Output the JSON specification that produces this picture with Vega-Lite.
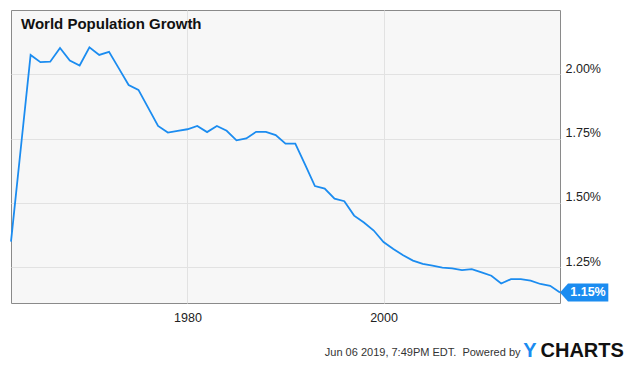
{
  "$schema": "https://vega.github.io/schema/vega-lite/v6.json",
  "width": 549,
  "height": 293,
  "autosize": {"type": "none"},
  "padding": {"left": 11, "top": 10, "right": 75, "bottom": 63},
  "background": "white",
  "config": {
    "font": "Liberation Sans",
    "view": {"fill": "#f7f7f7", "stroke": "#8a8a8a", "strokeWidth": 1}
  },
  "title": {
    "text": "World Population Growth",
    "anchor": "start",
    "frame": "group",
    "orient": "top",
    "offset": -22,
    "dx": 10,
    "fontSize": 15,
    "fontWeight": "bold",
    "color": "#111111"
  },
  "data": {
    "values": [
      {"year": 1962, "value": 1.349},
      {"year": 1963, "value": 1.712},
      {"year": 1964, "value": 2.075},
      {"year": 1965, "value": 2.047},
      {"year": 1966, "value": 2.049},
      {"year": 1967, "value": 2.102},
      {"year": 1968, "value": 2.053},
      {"year": 1969, "value": 2.034},
      {"year": 1970, "value": 2.105},
      {"year": 1971, "value": 2.075},
      {"year": 1972, "value": 2.087},
      {"year": 1973, "value": 2.023},
      {"year": 1974, "value": 1.958},
      {"year": 1975, "value": 1.939},
      {"year": 1976, "value": 1.869},
      {"year": 1977, "value": 1.799},
      {"year": 1978, "value": 1.773},
      {"year": 1979, "value": 1.780},
      {"year": 1980, "value": 1.786},
      {"year": 1981, "value": 1.799},
      {"year": 1982, "value": 1.775},
      {"year": 1983, "value": 1.799},
      {"year": 1984, "value": 1.780},
      {"year": 1985, "value": 1.743},
      {"year": 1986, "value": 1.750},
      {"year": 1987, "value": 1.776},
      {"year": 1988, "value": 1.776},
      {"year": 1989, "value": 1.763},
      {"year": 1990, "value": 1.730},
      {"year": 1991, "value": 1.730},
      {"year": 1992, "value": 1.648},
      {"year": 1993, "value": 1.565},
      {"year": 1994, "value": 1.555},
      {"year": 1995, "value": 1.516},
      {"year": 1996, "value": 1.506},
      {"year": 1997, "value": 1.450},
      {"year": 1998, "value": 1.423},
      {"year": 1999, "value": 1.392},
      {"year": 2000, "value": 1.347},
      {"year": 2001, "value": 1.320},
      {"year": 2002, "value": 1.296},
      {"year": 2003, "value": 1.275},
      {"year": 2004, "value": 1.262},
      {"year": 2005, "value": 1.255},
      {"year": 2006, "value": 1.248},
      {"year": 2007, "value": 1.245},
      {"year": 2008, "value": 1.238},
      {"year": 2009, "value": 1.242},
      {"year": 2010, "value": 1.229},
      {"year": 2011, "value": 1.216},
      {"year": 2012, "value": 1.186},
      {"year": 2013, "value": 1.203},
      {"year": 2014, "value": 1.203},
      {"year": 2015, "value": 1.197},
      {"year": 2016, "value": 1.184},
      {"year": 2017, "value": 1.177},
      {"year": 2018, "value": 1.151}
    ]
  },
  "encoding": {
    "x": {
      "field": "year",
      "type": "quantitative",
      "scale": {"domain": [1962, 2018], "nice": false, "zero": false},
      "axis": {
        "orient": "bottom",
        "values": [1980, 2000],
        "format": "d",
        "grid": true,
        "gridColor": "#e2e2e2",
        "ticks": false,
        "domain": false,
        "labelFontSize": 12.5,
        "labelColor": "#222222",
        "labelPadding": 8,
        "title": "Jun 06 2019, 7:49PM EDT.\u00a0 Powered by",
        "titleX": 509,
        "titleY": 52,
        "titleAlign": "right",
        "titleAnchor": null,
        "titleBaseline": "alphabetic",
        "titleFontSize": 11,
        "titleFontWeight": "normal",
        "titleColor": "#333333"
      }
    },
    "y": {
      "field": "value",
      "type": "quantitative",
      "scale": {"domain": [1.11, 2.25], "nice": false, "zero": false}
    }
  },
  "layer": [
    {
      "mark": {"type": "line", "color": "#1b8cf0", "strokeWidth": 1.8},
      "encoding": {
        "y": {
          "field": "value",
          "type": "quantitative",
          "axis": {
            "orient": "right",
            "values": [1.25, 1.5, 1.75, 2.0],
            "labelExpr": "format(datum.value, '.2f') + '%'",
            "grid": true,
            "gridColor": "#e2e2e2",
            "ticks": false,
            "domain": false,
            "labelFontSize": 12.5,
            "labelColor": "#222222",
            "labelPadding": 5,
            "labelBaseline": "alphabetic",
            "labelOffset": -2,
            "title": "CHARTS",
            "titleX": -20,
            "titleY": 346.5,
            "titleAngle": 0,
            "titleAlign": "left",
            "titleAnchor": null,
            "titleBaseline": "alphabetic",
            "titleFontSize": 20,
            "titleFontWeight": "bold",
            "titleColor": "#111111"
          }
        }
      }
    },
    {
      "transform": [{"filter": "datum.year == 2018"}],
      "mark": {
        "type": "point",
        "shape": "M0,0L1.6,-1.8L9.66,-1.8L9.66,1.8L1.6,1.8Z",
        "size": 100,
        "filled": true,
        "fill": "#1b8cf0",
        "stroke": null,
        "opacity": 1,
        "clip": false
      },
      "encoding": {
        "y": {
          "field": "value",
          "type": "quantitative",
          "axis": {
            "orient": "left",
            "labels": false,
            "ticks": false,
            "grid": false,
            "domain": false,
            "title": "Y",
            "titleX": 511.7,
            "titleY": 346.5,
            "titleAngle": 0,
            "titleAlign": "left",
            "titleAnchor": null,
            "titleBaseline": "alphabetic",
            "titleFontSize": 20,
            "titleFontWeight": "bold",
            "titleColor": "#1b8cf0"
          }
        }
      }
    },
    {
      "transform": [
        {"filter": "datum.year == 2018"},
        {"calculate": "format(datum.value, '.2f') + '%'", "as": "label"}
      ],
      "mark": {
        "type": "text",
        "dx": 28,
        "align": "center",
        "baseline": "middle",
        "fontSize": 12.5,
        "fontWeight": "bold",
        "color": "white"
      },
      "encoding": {
        "y": {"field": "value", "type": "quantitative", "axis": null},
        "text": {"field": "label"}
      }
    }
  ],
  "resolve": {"axis": {"y": "independent"}}
}
